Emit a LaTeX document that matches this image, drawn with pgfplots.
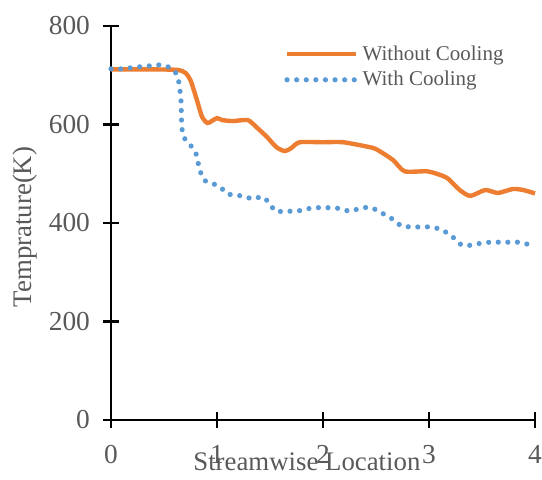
\documentclass[border=0pt]{standalone}
\usepackage{fontspec}
\setmainfont{Liberation Serif}
\usepackage{pgfplots}
\pgfplotsset{compat=1.18}
\definecolor{txtgray}{HTML}{595959}
\definecolor{orng}{HTML}{ED7D31}
\definecolor{blu}{HTML}{5B9BD5}

\begin{document}
\begin{tikzpicture}
\begin{axis}[
  at={(0,0)}, anchor=origin,
  scale only axis, width=212pt, height=197pt,
  xmin=0, xmax=4, ymin=0, ymax=800,
  axis x line*=bottom, axis y line*=left,
  axis line style={line width=1.3pt, black},
  xtick={0,1,2,3,4}, ytick={0,200,400,600,800},
  tick align=center, major tick length=8pt,
  tick style={line width=1.3pt, black},
  /pgf/number format/assume math mode=true,
  tick label style={font=\fontsize{13.7}{16}\selectfont, text=txtgray},
  xticklabel style={yshift=-5pt},
  yticklabel style={xshift=-3pt},
  xlabel={Streamwise Location},
  ylabel={Temprature(K)},
  every axis x label/.style={at={(axis description cs:0.462,-0.107)}, anchor=center,
    font=\fontsize{13.4}{16}\selectfont, text=txtgray},
  every axis y label/.style={at={(axis description cs:-0.203,0.49)}, rotate=90, anchor=center,
    font=\fontsize{13.4}{16}\selectfont, text=txtgray},
  legend style={at={(axis description cs:0.394,0.972)}, anchor=north west, draw=none, fill=none,
    font=\fontsize{10.5}{12.5}\selectfont, text=txtgray, row sep=0pt},
  legend cell align=left,
  legend image code/.code={\draw[#1] (0pt,0pt) -- (34.5pt,0pt);},
  clip=false,
]
\addplot[orng, line width=2.2pt, smooth, tension=0.4] coordinates {
(0,712) (0.3,712) (0.62,711) (0.70,705) (0.75,690) (0.81,650) (0.86,615) (0.91,603)
(0.95,607) (1.0,613) (1.05,609) (1.15,607) (1.29,609) (1.37,595) (1.47,575)
(1.56,554) (1.64,546) (1.70,552) (1.78,564) (2.0,564) (2.19,564) (2.44,554)
(2.51,549) (2.66,528) (2.77,505) (2.98,505) (3.10,498) (3.18,490) (3.29,467)
(3.39,455) (3.53,467) (3.65,461) (3.79,469) (3.89,467) (4.0,460)
};
\addlegendentry{Without Cooling}
\addplot[blu, line width=2.6pt, line cap=round, dash pattern=on 0pt off 4.8pt, smooth, tension=0.4] coordinates {
(0,713) (0.09,713) (0.18,715) (0.26,717) (0.36,719) (0.45,721) (0.54,717)
(0.61,705) (0.64,686) (0.66,650) (0.665,610) (0.67,591) (0.69,573) (0.75,558)
(0.80,542) (0.82,524) (0.84,506) (0.88,487) (0.95,481) (1.03,473) (1.10,459)
(1.18,457) (1.27,453) (1.34,449) (1.43,453) (1.50,439) (1.55,424) (1.64,424)
(1.72,424) (1.81,426) (1.90,431) (2.0,431) (2.08,431) (2.17,429) (2.25,424)
(2.34,429) (2.43,432) (2.51,426) (2.59,416) (2.67,406) (2.74,394) (2.84,392)
(2.92,392) (3.0,392) (3.10,388) (3.17,380) (3.25,367) (3.31,355) (3.40,355)
(3.49,359) (3.58,361) (3.66,361) (3.75,361) (3.84,361) (3.93,357) (4.0,356)
};
\addlegendentry{With Cooling}
\end{axis}
\pgfresetboundingbox
\path (-55.5pt,-29.5pt) rectangle (215.5pt,210pt);
\end{tikzpicture}
\end{document}
